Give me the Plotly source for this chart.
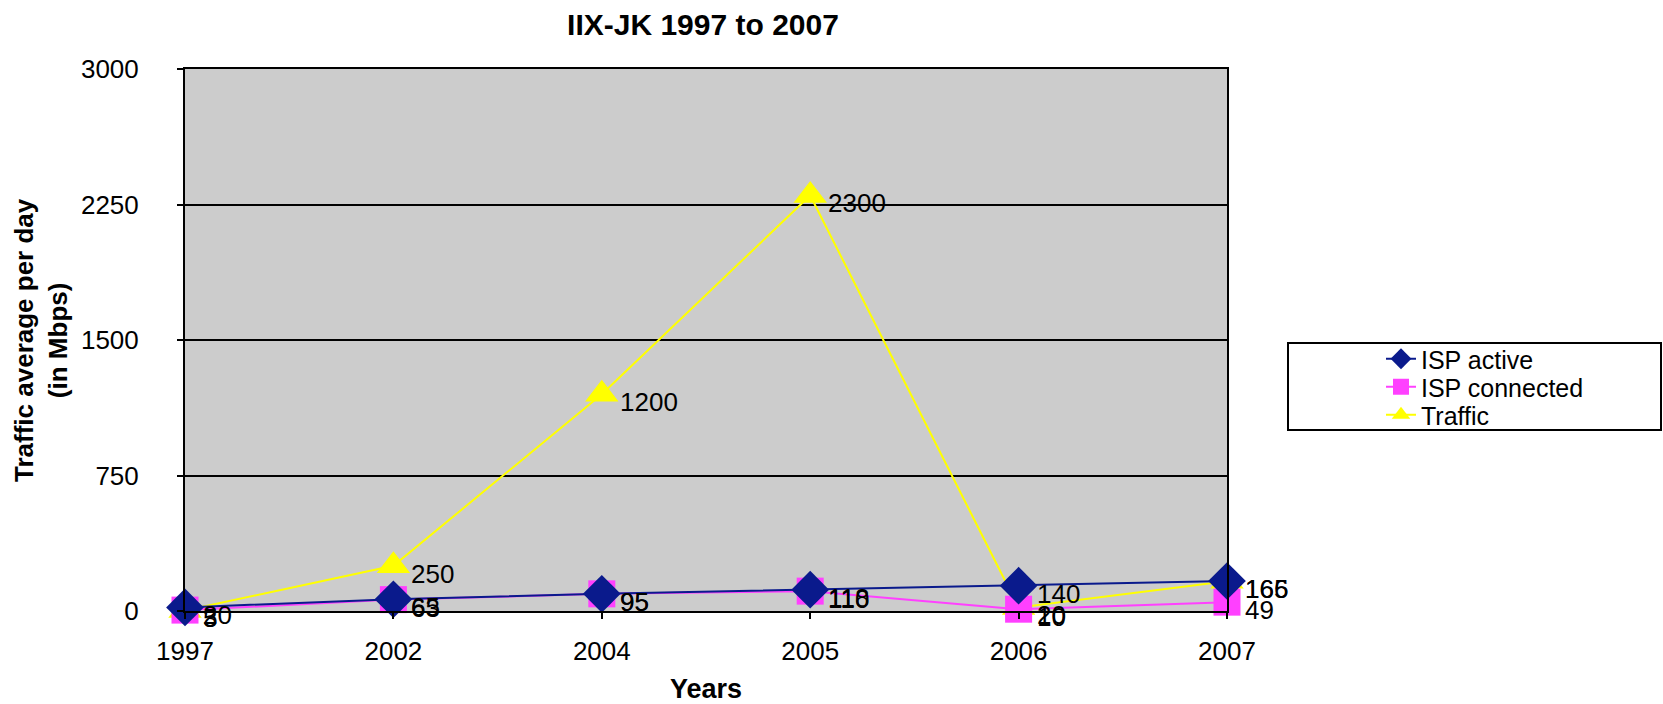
import plotly.graph_objects as go

years = ["1997", "2002", "2004", "2005", "2006", "2007"]
isp_active = [20, 65, 95, 118, 140, 166]
isp_connected = [5, 63, 95, 110, 10, 49]
traffic = [3, 250, 1200, 2300, 20, 165]
y_ticks = [0, 750, 1500, 2250, 3000]

FONT = "Liberation Sans, Arial, sans-serif"
NAVY = "#0a1a8c"
MAGENTA = "#ff40ff"
YELLOW = "#ffff00"

xs = list(range(len(years)))

fig = go.Figure()

series = [
    ("Traffic", traffic, YELLOW, "triangle-up", 29, "legend3"),
    ("ISP connected", isp_connected, MAGENTA, "square", 27, "legend2"),
    ("ISP active", isp_active, NAVY, "diamond", 29, "legend"),
]

for name, vals, col, sym, size, leg in series:
    fig.add_trace(go.Scatter(
        x=xs, y=vals, name=name, mode="lines+markers",
        line=dict(color=col, width=2),
        marker=dict(symbol=sym, size=size, color=col),
        cliponaxis=False, legend=leg,
    ))

# data labels, placed through the axes at each point
for name, vals, col, sym, size, leg in series:
    for xi, v in zip(xs, vals):
        fig.add_annotation(
            x=xi, y=v, xref="x", yref="y", text=str(v), showarrow=False,
            xanchor="left", yanchor="middle", xshift=16, yshift=-8,
            font=dict(family=FONT, size=26, color="black"),
        )

L, R, T, B = 185, 436, 69, 93
W, H = 1663, 704
pw = W - L - R
ph = H - T - B

def px_x(p):
    return (p - L) / pw

def px_y(p):
    return (H - B - p) / ph

fig.add_shape(type="rect", xref="paper", yref="paper",
              x0=px_x(1288), x1=px_x(1661), y0=px_y(430), y1=px_y(343),
              line=dict(color="black", width=2), fillcolor="rgba(0,0,0,0)")

fig.add_annotation(
    text="Traffic average per day<br>(in Mbps)", textangle=-90,
    xref="paper", yref="paper", x=px_x(41), y=px_y(340),
    xanchor="center", yanchor="middle", showarrow=False,
    font=dict(family=FONT, size=26, color="black", weight="bold"),
)

fig.add_annotation(
    text="<b>Years</b>", xref="paper", yref="paper",
    x=px_x(706), y=px_y(689), xanchor="center", yanchor="middle",
    showarrow=False, borderpad=0,
    font=dict(family=FONT, size=27, color="black"),
)

def legend_at(ypx):
    return dict(x=px_x(1381), y=px_y(ypx), xanchor="left", yanchor="middle",
                bgcolor="rgba(0,0,0,0)", borderwidth=0,
                font=dict(family=FONT, size=25, color="black"))

fig.update_layout(
    width=W, height=H,
    margin=dict(l=L, r=R, t=T, b=B, autoexpand=False),
    paper_bgcolor="white",
    plot_bgcolor="#cccccc",
    font=dict(family=FONT, color="black"),
    title=dict(text="<b>IIX-JK 1997 to 2007</b>", x=703 / W,
               xanchor="center", y=1 - 24 / H, yanchor="middle", yref="container",
               xref="container",
               font=dict(family=FONT, size=30, color="black")),
    showlegend=True,
    legend=legend_at(359),
    legend2=legend_at(387),
    legend3=legend_at(415),
    xaxis=dict(range=[0, 5], tickvals=xs, ticktext=years, automargin=False,
               showgrid=False, zeroline=False,
               showline=True, mirror=True, linecolor="black", linewidth=2,
               ticks="outside", ticklen=6, tickcolor="black", tickwidth=2,
               ticklabelstandoff=10,
               tickfont=dict(family=FONT, size=26, color="black")),
    yaxis=dict(range=[0, 3000], tickvals=y_ticks, automargin=False,
               showgrid=True, gridcolor="black", gridwidth=2, zeroline=False,
               showline=True, mirror=True, linecolor="black", linewidth=2,
               ticks="outside", ticklen=6, tickcolor="black", tickwidth=2,
               ticklabelstandoff=33,
               tickfont=dict(family=FONT, size=26, color="black")),
)

fig.write_html("out.html")
